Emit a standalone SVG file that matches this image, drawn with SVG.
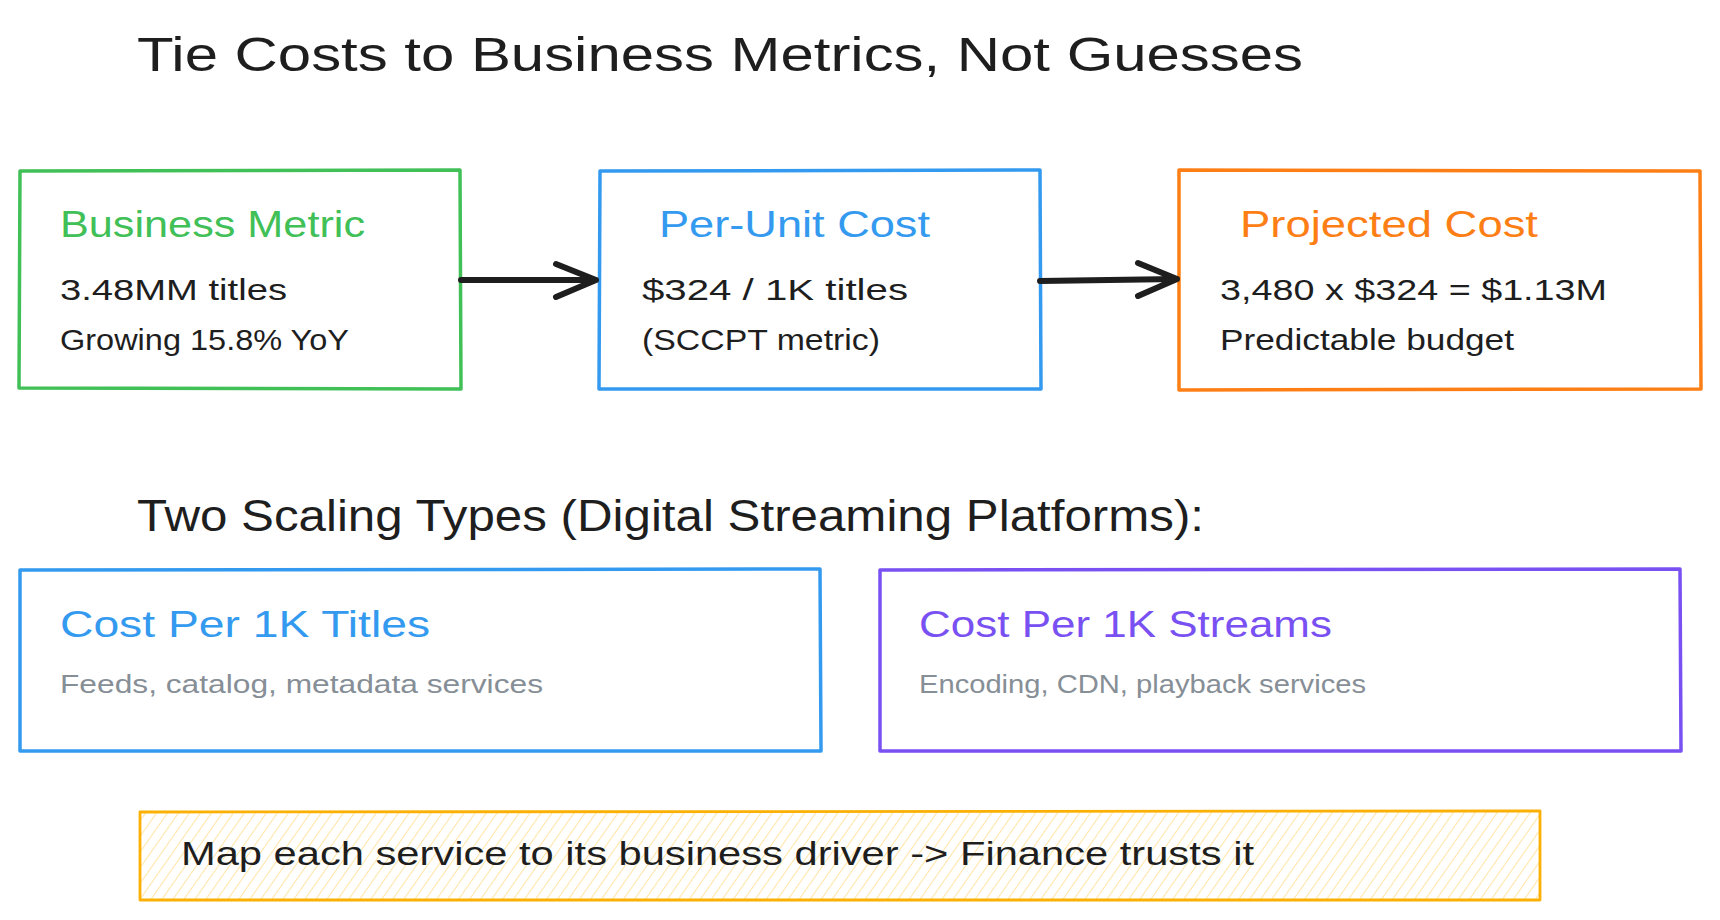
<svg xmlns="http://www.w3.org/2000/svg" width="1720" height="920" viewBox="0 0 1720 920">
<style>
text{font-family:"Liberation Sans","DejaVu Sans",sans-serif}
.title{font-size:48px;fill:#1e1e1e}
.head{font-size:37px}
.body{font-size:29px;fill:#1e1e1e}
.sub{font-size:26px;fill:#868e96}
.box{fill:#ffffff;stroke-width:3.5;stroke-linecap:round;stroke-linejoin:round}
.conn{fill:none;stroke:#1e1e1e;stroke-width:6;stroke-linecap:round;stroke-linejoin:round}
</style>
<defs>
<pattern id="hatch" patternUnits="userSpaceOnUse" width="9" height="9" patternTransform="rotate(35)">
<rect width="9" height="9" fill="#ffffff"/>
<line x1="0" y1="0" x2="0" y2="9" stroke="#ffe29a" stroke-width="1.8"/>
</pattern>
</defs>
<rect width="1720" height="920" fill="#ffffff"/>
<g id="title">
<text class="title" x="137" y="71" textLength="1166" lengthAdjust="spacingAndGlyphs">Tie Costs to Business Metrics, Not Guesses</text>
</g>
<g id="node-business-metric">
<path class="box" stroke="#40c057" d="M20 171 L460 170 L461 389 L19 388 Z"/>
<text class="head" x="60" y="237" fill="#40c057" textLength="305" lengthAdjust="spacingAndGlyphs">Business Metric</text>
<text class="body" x="60" y="300" textLength="227" lengthAdjust="spacingAndGlyphs">3.48MM titles</text>
<text class="body" x="60" y="350" textLength="289" lengthAdjust="spacingAndGlyphs">Growing 15.8% YoY</text>
</g>
<g id="node-per-unit-cost">
<path class="box" stroke="#339af0" d="M600 171 L1040 170 L1041 389 L599 389 Z"/>
<text class="head" x="659" y="237" fill="#339af0" textLength="271" lengthAdjust="spacingAndGlyphs">Per-Unit Cost</text>
<text class="body" x="642" y="300" textLength="266" lengthAdjust="spacingAndGlyphs">$324 / 1K titles</text>
<text class="body" x="642" y="350" textLength="238" lengthAdjust="spacingAndGlyphs">(SCCPT metric)</text>
</g>
<g id="node-projected-cost">
<path class="box" stroke="#fd7e14" d="M1179 170 L1700 171 L1701 389 L1179 390 Z"/>
<text class="head" x="1240" y="237" fill="#fd7e14" textLength="298" lengthAdjust="spacingAndGlyphs">Projected Cost</text>
<text class="body" x="1220" y="300" textLength="387" lengthAdjust="spacingAndGlyphs">3,480 x $324 = $1.13M</text>
<text class="body" x="1220" y="350" textLength="294" lengthAdjust="spacingAndGlyphs">Predictable budget</text>
</g>
<g id="connectors">
<path class="conn" d="M461 280 L596 280 M556 264 L596 280 L556 297"/>
<path class="conn" d="M1040 281 L1177 279 M1138 263 L1177 279 L1138 296"/>
</g>
<g id="subtitle">
<text class="title" x="137" y="531" style="font-size:45px" textLength="1067" lengthAdjust="spacingAndGlyphs">Two Scaling Types (Digital Streaming Platforms):</text>
</g>
<g id="node-cost-per-titles">
<path class="box" stroke="#339af0" d="M20 570 L820 569 L821 751 L20 751 Z"/>
<text class="head" x="60" y="637" fill="#339af0" textLength="370" lengthAdjust="spacingAndGlyphs">Cost Per 1K Titles</text>
<text class="sub" x="60" y="693" textLength="483" lengthAdjust="spacingAndGlyphs">Feeds, catalog, metadata services</text>
</g>
<g id="node-cost-per-streams">
<path class="box" stroke="#7950f2" d="M880 570 L1680 569 L1681 751 L880 751 Z"/>
<text class="head" x="919" y="637" fill="#7950f2" textLength="413" lengthAdjust="spacingAndGlyphs">Cost Per 1K Streams</text>
<text class="sub" x="919" y="693" textLength="447" lengthAdjust="spacingAndGlyphs">Encoding, CDN, playback services</text>
</g>
<g id="node-note">
<path fill="url(#hatch)" stroke="#fab005" stroke-width="2.8" stroke-linejoin="round" d="M140 812 L1540 811 L1540 900 L140 900 Z"/>
<text class="body" x="181" y="865" style="font-size:33px" textLength="1073" lengthAdjust="spacingAndGlyphs">Map each service to its business driver -&gt; Finance trusts it</text>
</g>
</svg>
